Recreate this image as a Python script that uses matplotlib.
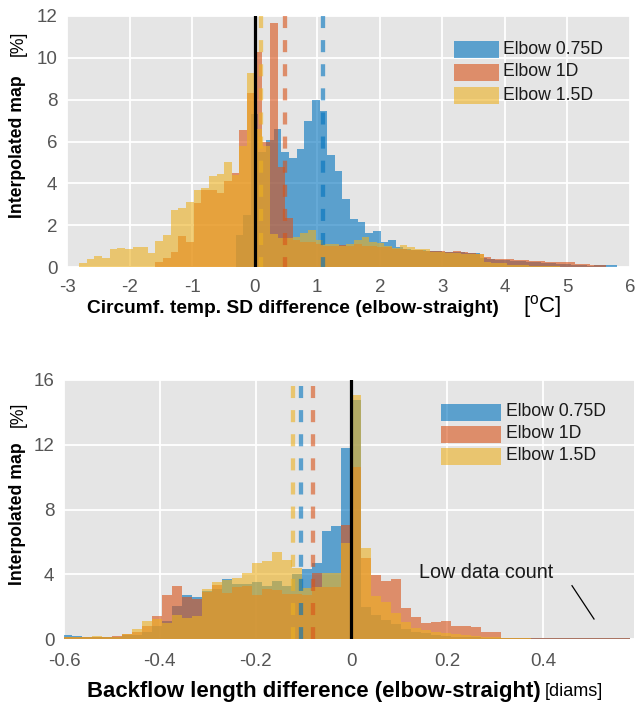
import numpy as np
import matplotlib
matplotlib.use("Agg")
import matplotlib.pyplot as plt
from matplotlib.patches import Rectangle

plt.rcParams['font.family'] = ['Liberation Sans', 'DejaVu Sans']
plt.rcParams['axes.unicode_minus'] = False

# ---------------- data: top panel (circumferential temp SD difference) ----------------
top_bin_width = 0.122
series_labels = ["Elbow 0.75D", "Elbow 1D", "Elbow 1.5D"]
# Elbow 0.75D : bins centred on multiples of the bin width, first centre index -2
top_blue_first = -2
top_blue = [1.53, 2.49, 7.32, 5.5, 6.08, 6.59, 5.49, 5.2, 5.65, 6.98,
            8.0, 7.46, 5.36, 4.59, 3.25, 2.3, 2.15, 1.63, 1.72, 1.2,
            1.29, 0.96, 0.86, 0.8, 0.8, 0.78, 0.75, 0.73, 0.7, 0.7,
            0.68, 0.65, 0.45, 0.4, 0.35, 0.33, 0.3, 0.28, 0.25, 0.23,
            0.2, 0.18, 0.15, 0.12, 0.1, 0.08, 0.06, 0.08, 0.1, 0.1]
# Elbow 1D : bins with edges on multiples of the bin width, first edge index -13
top_orange_first = -13
top_orange = [0.24, 0.45, 0.72, 1.48, 1.2, 3.06, 3.68, 3.68, 3.54, 4.11, 4.5, 6.55, 8.33,
              10.3, 6.0, 11.66, 4.8, 2.33, 1.3, 1.2, 1.2, 1.1, 1.0,
              1.0, 1.05, 1.0, 1.1, 1.0, 1.0, 0.95, 0.95, 0.85, 0.85,
              0.8, 0.8, 0.75, 0.75, 0.77, 0.72, 0.77, 0.7, 0.65, 0.6,
              0.5, 0.37, 0.37, 0.37, 0.33, 0.33, 0.3, 0.3, 0.25, 0.25,
              0.25, 0.25, 0.15, 0.15, 0.08, 0.08]
# Elbow 1.5D : first edge index -23
top_yellow_first = -23
top_yellow = [0.19, 0.38, 0.53, 0.45, 0.86, 0.91, 0.86, 0.96, 0.96, 0.67,
              1.24, 1.53, 2.73, 2.82, 3.11, 3.68, 3.78, 4.35, 4.45, 5.02,
              4.4, 5.8, 9.28,
              6.6, 5.8, 1.6, 1.4, 1.4, 1.43, 1.63, 1.77, 1.3, 1.1,
              1.1, 1.0, 1.1, 1.3, 1.43, 1.2, 1.16, 1.0, 0.89, 1.05,
              0.94, 0.85, 0.85, 0.73, 0.73, 0.69, 0.66, 0.6, 0.6, 0.64,
              0.25, 0.18, 0.18, 0.1, 0.1, 0.08, 0.06, 0.05, 0.04, 0.03, 0.02]
top_means = [1.087, 0.49, 0.096]
top_xticks = [-3, -2, -1, 0, 1, 2, 3, 4, 5, 6]
top_yticks = [0, 2, 4, 6, 8, 10, 12]

# ---------------- data: bottom panel (backflow length difference) ----------------
bot_bin_width = 0.0208
bot_first = -29
bot_blue = [0.23, 0.16, 0.15, 0.14, 0.12, 0.14, 0.22, 0.25, 0.45, 0.8,
            1.1, 2.04, 2.72, 2.57, 2.97, 3.1, 3.7, 3.4, 3.4, 3.5,
            3.3, 3.6, 3.3, 4.0, 4.32, 4.71, 6.69, 6.98, 11.82, 14.76,
            2.0, 1.5, 1.2, 0.9, 0.6, 0.45, 0.35, 0.25, 0.2, 0.15,
            0.12, 0.1, 0.08, 0.08, 0.06, 0.05, 0.05, 0.06, 0.05, 0.05,
            0.06, 0.05, 0.05, 0.06, 0.05, 0.05, 0.04]
bot_orange = [0.12, 0.1, 0.1, 0.12, 0.15, 0.2, 0.3, 0.45, 0.8, 1.42,
              2.72, 3.29, 2.61, 2.5, 2.9, 3.33, 2.82, 3.23, 3.27, 2.72,
              3.1, 3.0, 2.8, 2.8, 2.72, 4.06, 3.23, 3.23, 7.04, 10.64,
              4.98, 3.95, 3.6, 3.72, 1.9, 1.36, 1.0, 1.05, 1.1, 0.83,
              0.8, 0.75, 0.45, 0.45, 0.08, 0.05, 0.08, 0.05, 0.05, 0.05,
              0.05, 0.08, 0.05, 0.05, 0.06, 0.08, 0.05]
bot_yellow = [0.1, 0.1, 0.12, 0.2, 0.12, 0.15, 0.3, 0.6, 1.11, 1.25,
              1.0, 1.48, 1.28, 1.45, 3.07, 3.54, 3.65, 3.75, 4.06, 4.67,
              4.84, 5.37, 4.9, 4.37, 3.13, 3.2, 4.06, 4.06, 5.91, 15.1,
              5.64, 2.66, 2.3, 1.6, 1.05, 0.65, 0.55, 0.42, 0.38, 0.3,
              0.25, 0.2, 0.15, 0.1, 0.06, 0.05, 0.04, 0.03, 0.03, 0.02,
              0.02, 0.02, 0.02, 0.02, 0.02, 0.02, 0.02]
bot_means = [-0.105, -0.0795, -0.121]
bot_xticks = [-0.6, -0.4, -0.2, 0, 0.2, 0.4]
bot_xticklabels = ["-0.6", "-0.4", "-0.2", "0", "0.2", "0.4"]
bot_yticks = [0, 4, 8, 12, 16]

colors = ["#0072BD", "#D95319", "#EDB120"]
ALPHA = 0.6
BG = "#E5E5E5"
TICKC = "#555555"
FS = 12.7
TFS = 13.5

W, H = 636, 702
fig = plt.figure(figsize=(W / 100, H / 100), dpi=100)


def axes_px(l, t, r, b):
    return fig.add_axes([l / W, 1 - b / H, (r - l) / W, (b - t) / H])


def style(ax):
    ax.set_facecolor(BG)
    for s in ax.spines.values():
        s.set_visible(False)
    ax.grid(True, color="white", lw=1.3)
    ax.set_axisbelow(True)
    ax.tick_params(length=0, labelsize=TFS, labelcolor=TICKC)


def bars(ax, first, vals, width, color, offset=0.0):
    vals = np.asarray(vals, dtype=float)
    lefts = (np.arange(len(vals)) + first + offset) * width
    ax.bar(lefts, vals, width=width, align="edge", color=color,
           alpha=ALPHA, linewidth=0)


# ---------------- top panel ----------------
ax1 = axes_px(67, 16, 630, 267)
style(ax1)
bars(ax1, top_blue_first, top_blue, top_bin_width, colors[0], offset=-0.5)
bars(ax1, top_orange_first, top_orange, top_bin_width, colors[1])
bars(ax1, top_yellow_first, top_yellow, top_bin_width, colors[2])
for m, c in zip(top_means, colors):
    ax1.plot([m, m], [12, 0], color=c, alpha=0.6, lw=3.1,
             ls=(0, (2.8, 2.8)), solid_capstyle="butt", dash_capstyle="butt")
ax1.plot([0, 0], [0, 12], color="black", lw=2.3)
ax1.set_xlim(-3, 6)
ax1.set_ylim(0, 12)
ax1.set_xticks(top_xticks)
ax1.set_yticks(top_yticks)
ax1.tick_params(axis="x", pad=9)
ax1.tick_params(axis="y", pad=7)

# legend (transparent, drawn manually)
for i, (lab, c) in enumerate(zip(series_labels, colors)):
    yc = 49 + 23 * i
    ax1.add_patch(Rectangle((454 / W, 1 - (yc + 8.5) / H), 45 / W, 17 / H,
                            transform=fig.transFigure, color=c, alpha=ALPHA,
                            lw=0, clip_on=False))
    fig.text(503 / W, 1 - yc / H, lab, fontsize=FS, va="center", ha="left",
             color="#1a1a1a")

# ---------------- bottom panel ----------------
ax2 = axes_px(64, 380, 634, 639)
style(ax2)
bars(ax2, bot_first, bot_blue, bot_bin_width, colors[0])
bars(ax2, bot_first, bot_orange, bot_bin_width, colors[1])
bars(ax2, bot_first, bot_yellow, bot_bin_width, colors[2])
for m, c in zip(bot_means, colors):
    ax2.plot([m, m], [15.6, 0], color=c, alpha=0.6, lw=3.1,
             ls=(0, (2.8, 2.8)), solid_capstyle="butt", dash_capstyle="butt")
ax2.plot([0, 0], [0, 16], color="black", lw=2.3)
ax2.set_xlim(-0.6, 0.59)
ax2.set_ylim(0, 16)
ax2.set_xticks(bot_xticks)
ax2.set_xticklabels(bot_xticklabels)
ax2.set_yticks(bot_yticks)
ax2.tick_params(axis="x", pad=10)
ax2.tick_params(axis="y", pad=7)

for i, (lab, c) in enumerate(zip(series_labels, colors)):
    yc = 412 + 22 * i
    ax2.add_patch(Rectangle((441 / W, 1 - (yc + 8.5) / H), 60 / W, 17 / H,
                            transform=fig.transFigure, color=c, alpha=ALPHA,
                            lw=0, clip_on=False))
    fig.text(506 / W, 1 - yc / H, lab, fontsize=FS, va="center", ha="left",
             color="#1a1a1a")

fig.text(419 / W, 1 - 572 / H, "Low data count", fontsize=14.2, va="center",
         ha="left", color="#1a1a1a")
fig.add_artist(plt.Line2D([572 / W, 594 / W], [1 - 585.7 / H, 1 - 619 / H],
                          transform=fig.transFigure, color="black", lw=0.9))

# ---------------- axis labels ----------------
fig.text(499 / W, 1 - 308 / H, "Circumf. temp. SD difference (elbow-straight)",
         fontsize=13.8, fontweight="bold", ha="right", va="center")
fig.text(523 / W, 1 - 307 / H, "[$^{\\mathregular{o}}$C]", fontsize=16.0,
         ha="left", va="center")
fig.text(541 / W, 1 - 692 / H, "Backflow length difference (elbow-straight)",
         fontsize=15.9, fontweight="bold", ha="right", va="center")
fig.text(545 / W, 1 - 692 / H, "[diams]", fontsize=13.0, ha="left", va="center")

fig.text(18 / W, 1 - 218 / H, "Interpolated map", fontsize=FS,
         fontweight="bold", rotation=90, ha="center", va="bottom")
fig.text(18 / W, 1 - 56 / H, "[%]", fontsize=FS, rotation=90,
         ha="center", va="bottom")
fig.text(18 / W, 1 - 585 / H, "Interpolated map", fontsize=FS,
         fontweight="bold", rotation=90, ha="center", va="bottom")
fig.text(18 / W, 1 - 427 / H, "[%]", fontsize=FS, rotation=90,
         ha="center", va="bottom")

fig.savefig("out.png", dpi=100)
